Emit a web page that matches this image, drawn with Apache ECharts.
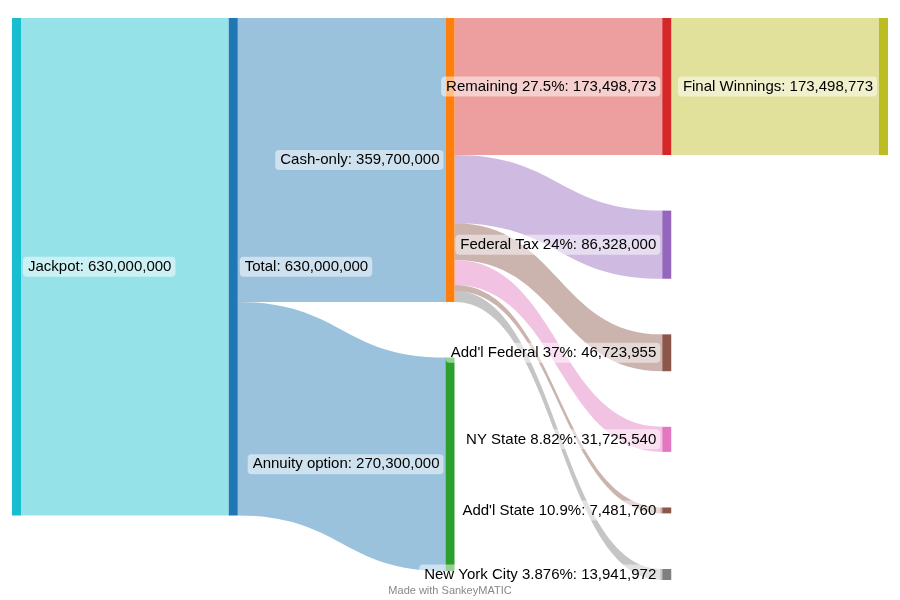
<!DOCTYPE html>
<html>
<head>
    <meta http-equiv="Content-Type" content="text/html; charset=utf-8"/>
    <script src="https://cdn.jsdelivr.net/npm/echarts@6/dist/echarts.min.js"></script>
</head>
<body style="margin:0">
<div id="main" style="width:900px;height:600px"></div>
<script type="text/javascript">
    // nodes, in the order they stack inside each column
    var nodeNames = ['Jackpot', 'Total', 'Cash-only', 'Annuity option',
        'Remaining 27.5%', 'Federal Tax 24%', "Add'l Federal 37%", 'NY State 8.82%',
        "Add'l State 10.9%", 'New York City 3.876%', 'Final Winnings'];
    var nodeColors = ['#17becf', '#1f77b4', '#ff7f0e', '#2ca02c',
        '#d62728', '#9467bd', '#8c564b', '#e377c2',
        '#8c564b', '#7f7f7f', '#bcbd22'];

    // flows
    var linkSources = ['Jackpot', 'Total', 'Total', 'Cash-only', 'Cash-only', 'Cash-only',
        'Cash-only', 'Cash-only', 'Cash-only', 'Remaining 27.5%'];
    var linkTargets = ['Total', 'Cash-only', 'Annuity option', 'Remaining 27.5%', 'Federal Tax 24%',
        "Add'l Federal 37%", 'NY State 8.82%', "Add'l State 10.9%", 'New York City 3.876%', 'Final Winnings'];
    var linkValues = [630000000, 359700000, 270300000, 173498773, 86328000,
        46723955, 31725540, 7481760, 13941972, 173498773];
    // which end of the flow gives it its colour
    var linkTint = ['source', 'source', 'source', 'target', 'target',
        'target', 'target', 'target', 'target', 'target'];

    var rightLabelled = ['Jackpot', 'Total'];

    function colorOf(name) {
        return nodeColors[nodeNames.indexOf(name)];
    }

    var nodes = nodeNames.map(function (n, i) {
        var pos = rightLabelled.indexOf(n) >= 0 ? 'right' : 'left';
        return {
            name: n,
            itemStyle: {color: nodeColors[i]},
            label: {position: pos}
        };
    });

    var links = linkSources.map(function (s, i) {
        var t = linkTargets[i];
        return {
            source: s,
            target: t,
            value: linkValues[i],
            lineStyle: {color: colorOf(linkTint[i] === 'source' ? s : t)}
        };
    });

    var chart = echarts.init(document.getElementById('main'));
    var option = {
        backgroundColor: '#ffffff',
        animation: false,
        series: [{
            type: 'sankey',
            left: 12,
            right: 12,
            top: 18,
            bottom: 20,
            nodeWidth: 9,
            nodeGap: 55.6,
            nodeAlign: 'left',
            layoutIterations: 0, // keep the stacking order as given
            draggable: false,
            emphasis: {disabled: true},
            data: nodes,
            links: links,
            itemStyle: {borderWidth: 0},
            lineStyle: {opacity: 0.45, curveness: 0.5},
            label: {
                show: true,
                fontFamily: 'Liberation Sans, Arial, sans-serif',
                fontSize: 15,
                color: '#000',
                distance: 2,
                backgroundColor: 'rgba(255,255,255,0.5)',
                borderRadius: 4,
                padding: [3, 4, 2, 5],
                formatter: function (p) {
                    return p.name + ': ' + p.value.toLocaleString('en-US');
                }
            }
        }],
        graphic: [{
            type: 'text',
            left: 'center',
            top: 585,
            style: {
                text: 'Made with SankeyMATIC',
                fontFamily: 'Liberation Sans, Arial, sans-serif',
                fontSize: 11,
                fill: '#888'
            }
        }]
    };
    chart.setOption(option);
</script>
</body>
</html>
